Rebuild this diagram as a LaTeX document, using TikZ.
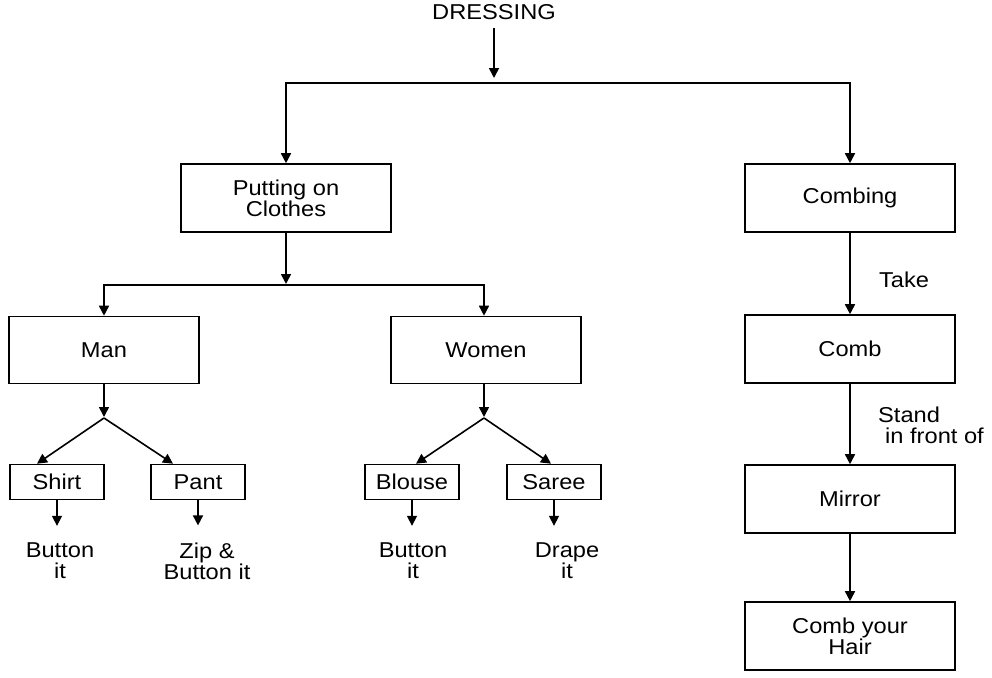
\documentclass[tikz,border=0pt]{standalone}
\usepackage{fontspec}
\setmainfont{Liberation Sans}[FakeStretch=1.1]
\usetikzlibrary{arrows.meta}
\begin{document}
\begin{tikzpicture}[x=1pt,y=-1pt,
  every node/.style={font=\fontsize{21.5}{21}\selectfont, align=center},
  bigbox/.style={draw, line width=1.6pt, minimum width=210pt, minimum height=68pt, inner sep=0pt},
  midbox/.style={draw, line width=1.6pt, minimum width=190pt, minimum height=67pt, inner sep=0pt},
  smallbox/.style={draw, line width=1.6pt, minimum width=94pt, minimum height=35pt, inner sep=0pt},
  lbl/.style={inner sep=0pt},
  arr/.style={line width=1.6pt, -{Triangle[length=10pt,width=10pt]}},
  ln/.style={line width=1.6pt}]
\useasboundingbox (0,0) rectangle (992,677);

\node[lbl] (dress) at (494,12) {DRESSING};
\coordinate (j0) at (494,83);

\node[bigbox] (put) at (286,198) {Putting on\\Clothes};
\node[bigbox] (combing) at (850,198) {Combing};
\node[bigbox] (comb) at (850,349) {Comb};
\node[bigbox] (mirror) at (850,499) {Mirror};
\node[bigbox] (hair) at (850,636) {Comb your\\Hair};

\coordinate (j1) at (286,285);
\node[midbox] (man) at (104,350) {Man};
\node[midbox] (women) at (486,350) {Women};

\coordinate (j2) at (104,418);
\coordinate (j3) at (484,418);
\node[smallbox] (shirt) at (57,482) {Shirt};
\node[smallbox] (pant) at (198,482) {Pant};
\node[smallbox] (blouse) at (412,482) {Blouse};
\node[smallbox] (saree) at (554,482) {Saree};

\node[lbl] (l1) at (60,561) {Button\\it};
\node[lbl] (l2) at (207,561) {Zip \&\\Button it};
\node[lbl] (l3) at (413,561) {Button\\it};
\node[lbl] (l4) at (567,561) {Drape\\it};

\node[lbl] (take) at (904,280) {Take};
\node[lbl, anchor=west, align=left] (stand) at (878,425) {Stand\\\hspace*{7pt}in front of};

% top level
\draw[arr, shorten <=8pt, shorten >=5pt] (dress.south) -- (j0);
\draw[arr] (j0) -| (put.north);
\draw[arr] (j0) -| (combing.north);

% clothes
\draw[arr, shorten >=1pt] (put.south) -- (j1);
\draw[arr] (j1) -| (man.north);
\draw[arr] (j1) -| ([xshift=-2pt]women.north);

\draw[arr, shorten >=1pt] (man.south) -- (j2);
\draw[arr, shorten >=1pt] ([xshift=-2pt]women.south) -- (j3);
\draw[arr] (j2) -- ([xshift=-20pt]shirt.north);
\draw[arr] (j2) -- ([xshift=-25pt]pant.north);
\draw[arr] (j3) -- ([xshift=4pt]blouse.north);
\draw[arr] (j3) -- ([xshift=-3pt]saree.north);

\draw[arr, shorten >=17pt] (shirt.south) -- (shirt.south |- l1.north);
\draw[arr, shorten >=17pt] (pant.south) -- (pant.south |- l2.north);
\draw[arr, shorten >=17pt] (blouse.south) -- (blouse.south |- l3.north);
\draw[arr, shorten >=17pt] (saree.south) -- (saree.south |- l4.north);

% combing chain
\draw[arr] (combing.south) -- (comb.north);
\draw[arr] (comb.south) -- (mirror.north);
\draw[arr] (mirror.south) -- (hair.north);
\end{tikzpicture}
\end{document}
